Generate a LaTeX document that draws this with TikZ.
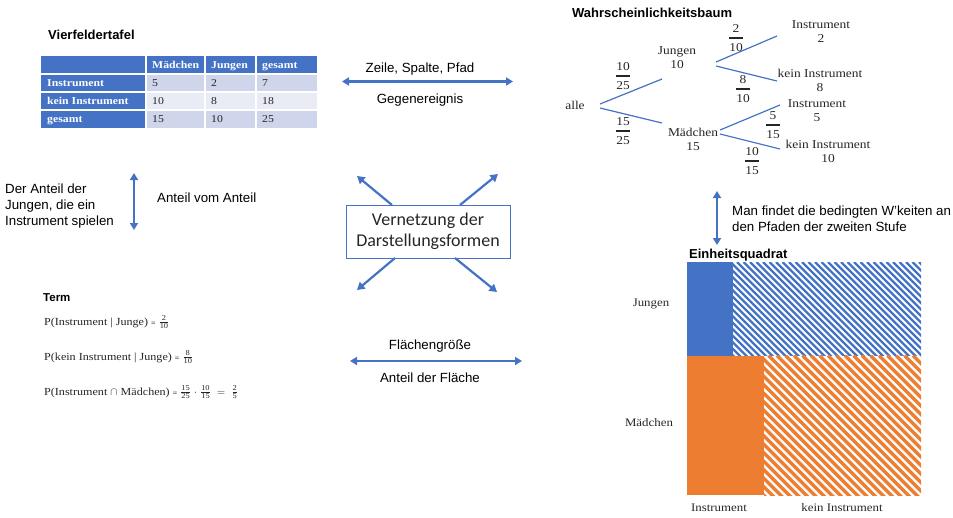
\documentclass[tikz,border=0pt]{standalone}
\usepackage{amsmath}
\usepackage{fontspec}
\setmainfont{Liberation Serif}[FakeStretch=1.12]
\setsansfont{Liberation Sans}
\newfontfamily\calfont{Carlito}
\usetikzlibrary{arrows.meta}

\definecolor{accblue}{HTML}{4472C4}
\definecolor{accorange}{HTML}{ED7D31}
\definecolor{rowdark}{HTML}{CFD5EA}
\definecolor{rowlight}{HTML}{E9EBF5}
\definecolor{ink}{HTML}{262626}

% fraction with a heavy bar (tree) and a small inline fraction (terms)
\newcommand\heavyfrac[2]{$\genfrac{}{}{1.6pt}{0}{\text{#1}}{\text{#2}}$}
\newcommand\tinynum[1]{\mbox{\fontsize{7.5}{8}\selectfont #1}}
\newcommand\smallfrac[2]{$\genfrac{}{}{0.5pt}{1}{\tinynum{#1}}{\tinynum{#2}}$}
\newcommand\smalleq{{\fontsize{7}{8}\selectfont\bfseries =}}

\begin{document}
\begin{tikzpicture}[x=1pt,y=-1pt,
  heading/.style={font=\sffamily\bfseries\fontsize{13}{16}\selectfont, inner sep=0pt, anchor=base west},
  sanstext/.style={font=\sffamily\fontsize{13.3}{16}\selectfont, inner sep=0pt},
  thead/.style={font=\bfseries\fontsize{10.5}{12}\selectfont, text=white, inner sep=0pt, anchor=base west},
  tcell/.style={font=\fontsize{10.5}{12}\selectfont, text=ink, inner sep=0pt, anchor=base west},
  treelbl/.style={font=\fontsize{12}{14}\selectfont, text=ink, align=center, inner sep=1pt},
  fracnode/.style={font=\fontsize{12}{14}\selectfont, text=ink, inner sep=0pt},
  termline/.style={font=\fontsize{10.8}{13}\selectfont, text=ink, inner sep=0pt, anchor=base west},
  sqlbl/.style={font=\fontsize{11.5}{13}\selectfont, text=ink, inner sep=0pt},
  edge/.style={draw=accblue, line width=1.2pt},
  biarrow/.style={draw=accblue, line width=2.2pt, {Triangle[length=7pt,width=8pt]}-{Triangle[length=7pt,width=8pt]}},
  outarrow/.style={draw=accblue, line width=2.2pt, -{Triangle[length=7.5pt,width=8.5pt]}},
  ]
\useasboundingbox (0,0) rectangle (953,517);

% ---------------- Vierfeldertafel ----------------
\node[heading] (ttitle) at (48,39) {Vierfeldertafel};
\fill[accblue] (41,56) rectangle (317,74);
\fill[accblue] (41,74) rectangle (146,128);
\fill[rowdark]  (146,74) rectangle (317,92);
\fill[rowlight] (146,92) rectangle (317,110);
\fill[rowdark]  (146,110) rectangle (317,128);
\draw[white, line width=1.6pt] (146,56)--(146,128) (205,56)--(205,128) (256,56)--(256,128)
  (41,74)--(317,74) (41,92)--(317,92) (41,110)--(317,110);
\node[thead] (hM) at (152,68.5) {Mädchen};
\node[thead] (hJ) at (211,68.5) {Jungen};
\node[thead] (hG) at (262,68.5) {gesamt};
\node[thead] (rI) at (47,86.5) {Instrument};
\node[thead] (rK) at (47,104.5) {kein Instrument};
\node[thead] (rG) at (47,122.5) {gesamt};
\node[tcell] (c11) at (152,86.5) {5};
\node[tcell] (c12) at (211,86.5) {2};
\node[tcell] (c13) at (262,86.5) {7};
\node[tcell] (c21) at (152,104.5) {10};
\node[tcell] (c22) at (211,104.5) {8};
\node[tcell] (c23) at (262,104.5) {18};
\node[tcell] (c31) at (152,122.5) {15};
\node[tcell] (c32) at (211,122.5) {10};
\node[tcell] (c33) at (262,122.5) {25};

% ---------------- table <-> tree ----------------
\node[sanstext, anchor=base] (zsp) at (420,72) {Zeile, Spalte, Pfad};
\node[sanstext, anchor=base] (geg) at (420,103) {Gegenereignis};
\coordinate (zL) at (342,81.5);
\coordinate (zR) at (513,81.5);
\draw[biarrow] (zL) -- (zR);

% ---------------- Wahrscheinlichkeitsbaum ----------------
\node[heading] (btitle) at (572,17.5) {Wahrscheinlichkeitsbaum};
\node[treelbl] (alle) at (575,105) {alle};
\node[treelbl] (jungen) at (677,58) {Jungen\\10};
\node[treelbl] (maedchen) at (693,139) {Mädchen\\15};
\node[treelbl] (instrA) at (821,32) {Instrument\\2};
\node[treelbl] (keinA) at (820,80) {kein Instrument\\8};
\node[treelbl] (instrB) at (817,111) {Instrument\\5};
\node[treelbl] (keinB) at (828,151) {kein Instrument\\10};

\draw[edge] ([shift={(25,-1)}]alle.center) -- ([shift={(-15,21)}]jungen.center);
\draw[edge] ([shift={(25,3)}]alle.center) -- ([shift={(-31,-16)}]maedchen.center);
\draw[edge] ([shift={(39,4)}]jungen.center) -- ([shift={(-44,4)}]instrA.center);
\draw[edge] ([shift={(39,8)}]jungen.center) -- ([shift={(-43,1)}]keinA.center);
\draw[edge] ([shift={(27,-9)}]maedchen.center) -- ([shift={(-37,-6)}]instrB.center);
\draw[edge] ([shift={(27,-5)}]maedchen.center) -- ([shift={(-48,-2)}]keinB.center);

\node[fracnode] (pJ) at (623,76) {\heavyfrac{10}{25}};
\node[fracnode] (pM) at (623,131) {\heavyfrac{15}{25}};
\node[fracnode] (pJI) at (736,38) {\heavyfrac{2}{10}};
\node[fracnode] (pJK) at (743,89) {\heavyfrac{8}{10}};
\node[fracnode] (pMI) at (773,125) {\heavyfrac{5}{15}};
\node[fracnode] (pMK) at (752,161) {\heavyfrac{10}{15}};

% ---------------- left: share of a share ----------------
\node[sanstext, anchor=base west, align=left] (anteilTxt) at (5,225.5)
  {Der Anteil der\\Jungen, die ein\\Instrument spielen};
\node[sanstext, anchor=base west] (avA) at (157,202) {Anteil vom Anteil};
\coordinate (vT) at (134,173);
\coordinate (vB) at (134,230);
\draw[biarrow] (vT) -- (vB);

% ---------------- centre ----------------
\node[draw=accblue, line width=0.8pt, minimum width=164pt, minimum height=53pt,
      inner sep=0pt, align=center, text=ink, font=\calfont\fontsize{18}{21.5}\selectfont]
  (hub) at (428,231.5) {Vernetzung der\\Darstellungsformen};
\coordinate (tipUL) at (357,176);
\coordinate (tipUR) at (498,174);
\coordinate (tipLL) at (357,290);
\coordinate (tipLR) at (497,292);
\draw[outarrow] ([shift={(-36,-26.5)}]hub.center) -- (tipUL);
\draw[outarrow] ([shift={(32,-26.5)}]hub.center) -- (tipUR);
\draw[outarrow] ([shift={(-33,26.5)}]hub.center) -- (tipLL);
\draw[outarrow] ([shift={(27,26.5)}]hub.center) -- (tipLR);

% ---------------- Term ----------------
\node[font=\sffamily\bfseries\fontsize{11.5}{13}\selectfont, inner sep=0pt, anchor=base west]
  (termTitle) at (43,301) {Term};
\node[termline] (t1) at (44,325)
  {P(Instrument | Junge) \smalleq\ \smallfrac{2}{10}};
\node[termline] (t2) at (44,360)
  {P(kein Instrument | Junge) \smalleq\ \smallfrac{8}{10}};
\node[termline] (t3) at (44,395)
  {P(Instrument $\cap$ Mädchen) \smalleq\ \smallfrac{15}{25}\kern3pt$\cdot$\kern3pt\smallfrac{10}{15}\kern6pt$=$\kern6pt\smallfrac{2}{5}};

% ---------------- term <-> square ----------------
\node[sanstext, anchor=base] (flg) at (430,349) {Flächengröße};
\node[sanstext, anchor=base] (adf) at (430,382) {Anteil der Fläche};
\coordinate (fL) at (350,361);
\coordinate (fR) at (522,361);
\draw[biarrow] (fL) -- (fR);

% ---------------- tree <-> square ----------------
\node[sanstext, anchor=base west, align=left] (bedTxt) at (732,231)
  {Man findet die bedingten W'keiten an\\den Pfaden der zweiten Stufe};
\coordinate (rT) at (717,191);
\coordinate (rB) at (717,245);
\draw[biarrow] (rT) -- (rB);

% ---------------- Einheitsquadrat ----------------
\node[heading] (qtitle) at (689,258) {Einheitsquadrat};
\fill[accblue] (687,262) rectangle (733,355.5);
\fill[accorange] (687,355.5) rectangle (764,495);
\begin{scope}
  \clip (733,262) rectangle (921,355.5);
  \foreach \a in {0,6.5,...,300}
    \draw[accblue, line width=2.4pt] (\a+633,262) -- (\a+733,362);
\end{scope}
\begin{scope}
  \clip (764,355.5) rectangle (921,495);
  \foreach \a in {0,8.5,...,320}
    \draw[accorange, line width=3.2pt] (\a+624,355.5) -- (\a+774,505.5);
\end{scope}
\node[sqlbl] (sqJ) at (651,304) {Jungen};
\node[sqlbl] (sqM) at (649,423) {Mädchen};
\node[sqlbl] (sqI) at (719,508) {Instrument};
\node[sqlbl] (sqK) at (842,508) {kein Instrument};
\end{tikzpicture}
\end{document}
